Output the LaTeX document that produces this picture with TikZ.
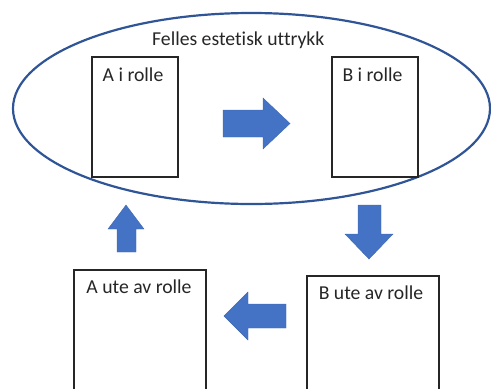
\documentclass[tikz,border=0pt]{standalone}
\usepackage{fontspec}
\setmainfont{Carlito}[Ligatures=NoCommon]
\usepackage{tikz}
\usetikzlibrary{positioning, calc}
\definecolor{ringblue}{HTML}{2F5597}
\definecolor{arrowblue}{HTML}{4472C4}
\definecolor{boxline}{HTML}{262626}

\tikzset{
    rolebox/.style={draw=boxline, line width=1.1pt, fill=white, inner sep=0pt},
    rolelabel/.style={anchor=base, inner sep=0pt, font=\fontsize{19.7}{24}\selectfont, text=black!85},
    blockarrow/.style={fill=arrowblue, draw=arrowblue!90!black, line width=0.4pt}
}

\begin{document}
\begin{tikzpicture}[x=1pt, y=-1pt]
    \useasboundingbox (0,0) rectangle (491,389);
    \clip (0,0) rectangle (491,389);

    % Shared aesthetic expression
    \draw[line width=2.2pt, draw=ringblue] (251.5,108.5) ellipse (238.5pt and 95.5pt);
    \node[rolelabel] (title) at (238.3,45) {Felles estetisk uttrykk};

    % In role boxes
    \node[rolebox, minimum width=86pt, minimum height=120pt] (aIn) at (135,117) {};
    \node[rolelabel] (aInText) at ($(aIn.north)+(-2,25)$) {A i rolle};
    \node[rolebox, minimum width=86pt, minimum height=120pt] (bIn) at (375,117) {};
    \node[rolelabel] (bInText) at ($(bIn.north)+(-2.5,25)$) {B i rolle};

    % Out of role boxes
    \node[rolebox, minimum width=132pt, minimum height=150pt] (aOut) at (140,345) {};
    \node[rolelabel] (aOutText) at ($(aOut.north)+(-1,24)$) {A ute av rolle};
    \node[rolebox, minimum width=132pt, minimum height=150pt] (bOut) at (373,351) {};
    \node[rolelabel] (bOutText) at ($(bOut.north)+(-2,24)$) {B ute av rolle};

    % Block arrows (A -> B -> B out -> A out -> A)
    \fill[blockarrow] (223,110) -- (263,110) -- (263,98) -- (290,123.5) -- (263,149) -- (263,137) -- (223,137) -- cycle;
    \fill[blockarrow] (358,205) -- (381,205) -- (381,234) -- (393,234) -- (369,259) -- (345,234) -- (358,234) -- cycle;
    \fill[blockarrow] (286,304) -- (248,304) -- (248,292) -- (224,316) -- (248,340) -- (248,328) -- (286,328) -- cycle;
    \fill[blockarrow] (117,252) -- (117,229) -- (108,229) -- (126,205) -- (144,229) -- (136,229) -- (136,252) -- cycle;
\end{tikzpicture}
\end{document}
